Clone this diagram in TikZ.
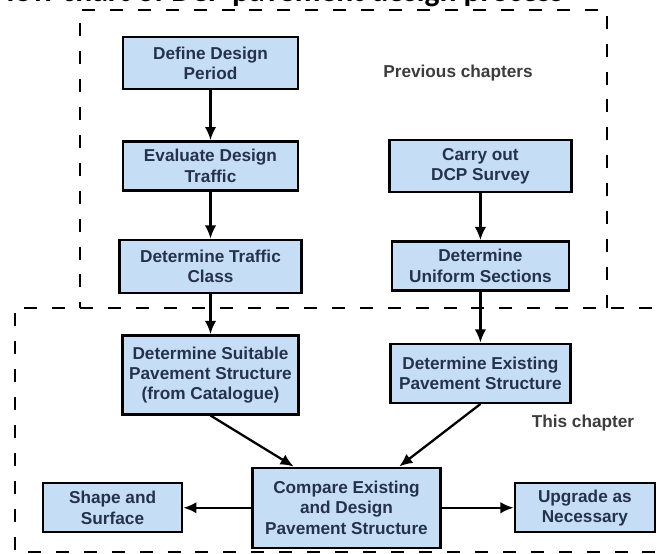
\documentclass[tikz,border=0pt]{standalone}
\usepackage{fontspec}
\setmainfont{Liberation Sans}
\newfontfamily\titlefont{Carlito}
\usepackage{tikz}
\usetikzlibrary{positioning}
\usetikzlibrary{arrows,arrows.meta}
\usetikzlibrary{calc}
\definecolor{boxblue}{RGB}{197,222,246}
\definecolor{boxtext}{RGB}{38,50,76}
\definecolor{notegrey}{RGB}{60,60,60}
\tikzstyle{block} = [draw, line width=1.4pt, fill=boxblue, rectangle, text=boxtext, font=\bfseries\fontsize{9.8}{11.5}\selectfont, align=center, inner sep=2pt]
\tikzstyle{note} = [text=notegrey, font=\bfseries\fontsize{9.8}{11.5}\selectfont]
\tikzstyle{frame} = [line width=1.7pt, dash pattern=on 7.4pt off 8.5pt]
\tikzstyle{flow} = [line width=1.3pt, ->]

\begin{document}
\begin{tikzpicture}[x=0.02cm, y=-0.02cm, >={Latex[length=7.5pt,width=6.5pt]}]
	\useasboundingbox (0,0) rectangle (660,554);

	% dashed frames
	\draw [frame] (607,308) -- (607,10) -- (80,10) -- (80,308);
	\draw [frame] (680,308) -- (15,308) -- (15,552) -- (680,552);

	\node [anchor=base west, font=\titlefont\bfseries\fontsize{18}{20}\selectfont] (title) at (-14,2) {Flow chart of DCP pavement design process};

	\node [block, minimum width=3.5cm, minimum height=1.04cm] (define) at (210.5,63) {Define Design\\Period};
	\node [block, minimum width=3.5cm, minimum height=0.98cm, below=1.0cm of define] (evaluate) {Evaluate Design\\Traffic};
	\node [block, minimum width=3.64cm, minimum height=1.06cm, below=0.94cm of evaluate] (trafficclass) {Determine Traffic\\Class};
	\node [block, minimum width=3.52cm, minimum height=1.58cm, below=0.8cm of trafficclass] (suitable) {Determine Suitable\\Pavement Structure\\(from Catalogue)};

	\node [block, minimum width=3.64cm, minimum height=1.04cm, right=1.78cm of evaluate] (dcp) {Carry out\\DCP Survey};
	\node [block, minimum width=3.54cm, minimum height=0.98cm, below=0.94cm of dcp] (uniform) {Determine\\Uniform Sections};
	\node [block, minimum width=3.6cm, minimum height=1.18cm, below=1.02cm of uniform] (existing) {Determine Existing\\Pavement Structure};

	\node [block, minimum width=3.76cm, minimum height=1.6cm, below=1.02cm of suitable, xshift=2.72cm] (compare) {Compare Existing\\and Design\\Pavement Structure};
	\node [block, minimum width=2.78cm, minimum height=0.98cm, left=1.36cm of compare] (shape) {Shape and\\Surface};
	\node [block, minimum width=2.8cm, minimum height=0.98cm, right=1.44cm of compare] (upgrade) {Upgrade as\\Necessary};

	\node [note] (prevnote) at (458,73) {Previous chapters};
	\node [note] (thisnote) at (583,423) {This chapter};

	\draw [flow] (define) -- (evaluate);
	\draw [flow] (evaluate) -- (trafficclass);
	\draw [flow] (trafficclass) -- (suitable);
	\draw [flow] (dcp) -- (uniform);
	\draw [flow] (uniform) -- (existing);
	\draw [flow] (suitable.south) -- (compare.142);
	\draw [flow] (existing.south) -- (compare.38);
	\draw [flow] (compare) -- (shape);
	\draw [flow] (compare) -- (upgrade);

\end{tikzpicture}
\end{document}
